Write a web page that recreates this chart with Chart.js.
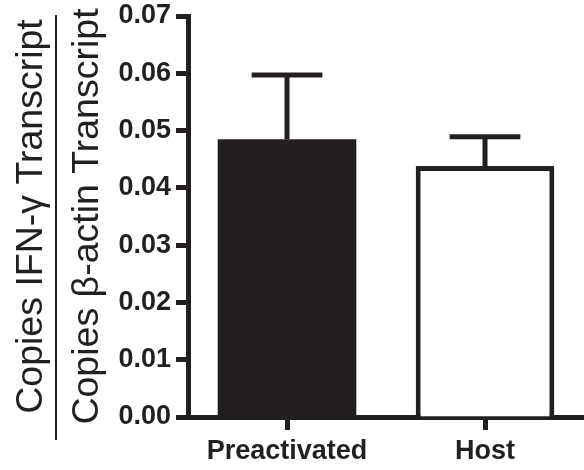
<!DOCTYPE html>
<html>
<head>
<meta charset="utf-8">
<script src="https://cdn.jsdelivr.net/npm/chart.js@4"></script>
<style>
  html, body { margin: 0; padding: 0; background: #fff; }
  canvas { display: block; }
</style>
</head>
<body>
<canvas id="ifnChart" width="584" height="470"></canvas>
<script>
// Data
const categories = ['Preactivated', 'Host'];
const means = [0.0485, 0.0438];
const upperErrors = [0.0112, 0.0051];
const yMin = 0;
const yMax = 0.07;
const yStep = 0.01;
const titleTop = 'Copies IFN-\u03B3 Transcript';
const titleBottom = 'Copies \u03B2-actin Transcript';

const ink = '#231f20';
const fontFamily = '"Liberation Sans", Arial, Helvetica, sans-serif';

// Upper error bars (mean + SEM) drawn on top of the bars
const errorBars = {
  id: 'errorBars',
  afterDatasetsDraw(chart) {
    const ctx = chart.ctx;
    const y = chart.scales.y;
    const meta = chart.getDatasetMeta(0);
    ctx.save();
    ctx.strokeStyle = ink;
    ctx.lineWidth = 5;
    meta.data.forEach((bar, i) => {
      const top = y.getPixelForValue(means[i] + upperErrors[i]);
      const half = bar.width * 0.255;
      ctx.beginPath();
      ctx.moveTo(bar.x, bar.y);
      ctx.lineTo(bar.x, top);
      ctx.moveTo(bar.x - half, top);
      ctx.lineTo(bar.x + half, top);
      ctx.stroke();
    });
    ctx.restore();
  }
};

// Y title written as a fraction: IFN-gamma over beta-actin
const fractionTitle = {
  id: 'fractionTitle',
  afterDraw(chart) {
    const ctx = chart.ctx;
    const area = chart.chartArea;
    const cy = (area.top + area.bottom) / 2;
    ctx.save();
    ctx.fillStyle = ink;
    ctx.font = '37.5px ' + fontFamily;
    ctx.textAlign = 'center';
    ctx.textBaseline = 'alphabetic';

    ctx.save();
    ctx.translate(42, cy);
    ctx.rotate(-Math.PI / 2);
    ctx.fillText(titleTop, 0, 0);
    ctx.restore();

    ctx.save();
    ctx.translate(98, cy);
    ctx.rotate(-Math.PI / 2);
    ctx.fillText(titleBottom, 0, 0);
    ctx.restore();

    ctx.strokeStyle = ink;
    ctx.lineWidth = 2;
    ctx.beginPath();
    ctx.moveTo(56, 15);
    ctx.lineTo(56, 440);
    ctx.stroke();
    ctx.restore();
  }
};

new Chart(document.getElementById('ifnChart'), {
  type: 'bar',
  data: {
    labels: categories,
    datasets: [{
      data: means,
      backgroundColor: [ink, '#ffffff'],
      borderColor: ink,
      borderWidth: [0, 5],
      borderSkipped: 'bottom',
      barPercentage: 0.7,
      categoryPercentage: 1
    }]
  },
  options: {
    responsive: false,
    animation: false,
    devicePixelRatio: 1,
    layout: {
      padding: { left: 110, top: 16, right: 0, bottom: 0 }
    },
    plugins: {
      legend: { display: false },
      tooltip: { enabled: false }
    },
    scales: {
      x: {
        afterFit: (scale) => { scale.height = 53; },
        grid: {
          display: true,
          drawOnChartArea: false,
          drawTicks: true,
          offset: false,
          tickLength: 13,
          tickWidth: 5,
          tickColor: ink
        },
        border: { display: true, color: ink, width: 5 },
        ticks: {
          color: ink,
          padding: 5,
          font: { family: fontFamily, size: 27, weight: 'bold' }
        }
      },
      y: {
        min: yMin,
        max: yMax,
        afterFit: (scale) => {
          scale.width = 78;
          scale.paddingTop = 0;
          scale.paddingBottom = 0;
        },
        grid: {
          display: true,
          drawOnChartArea: false,
          drawTicks: true,
          tickLength: 12,
          tickWidth: 5,
          tickColor: ink
        },
        border: { display: true, color: ink, width: 5 },
        ticks: {
          stepSize: yStep,
          color: ink,
          padding: 5,
          font: { family: fontFamily, size: 27, weight: 'bold' },
          callback: (value) => value.toFixed(2)
        }
      }
    }
  },
  plugins: [errorBars, fractionTitle]
});
</script>
</body>
</html>
